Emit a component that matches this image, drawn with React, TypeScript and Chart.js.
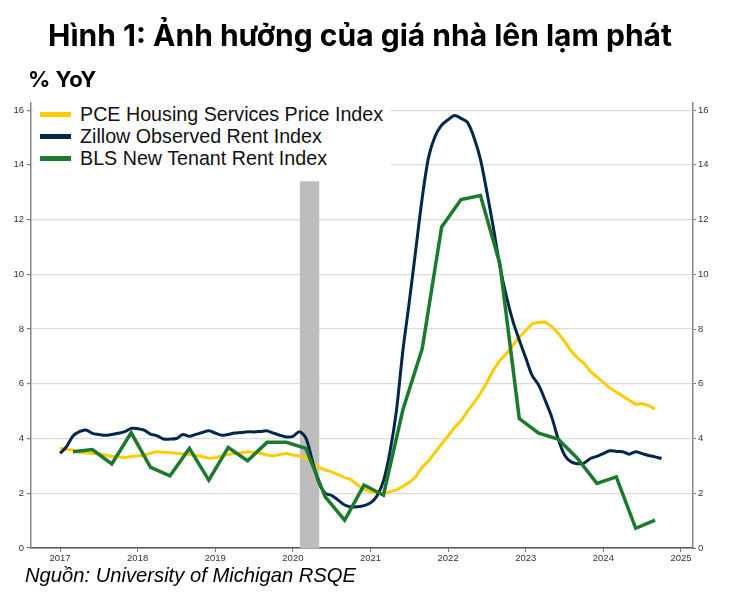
import React, { useEffect, useRef } from "react";
import { Chart, registerables } from "chart.js";

Chart.register(...registerables);

const yearTicks = [2017, 2018, 2019, 2020, 2021, 2022, 2023, 2024, 2025];
const valueTicks = [0, 2, 4, 6, 8, 10, 12, 14, 16];

// Monthly series start Jan 2017
const seriesStart = 2017;
const zillowValues = [
  3.46, 3.7, 4.09, 4.25, 4.31, 4.19, 4.15, 4.12, 4.15, 4.19, 4.25, 4.37,
  4.36, 4.31, 4.16, 4.1, 3.98, 3.98, 4.0, 4.15, 4.08, 4.15, 4.22, 4.28,
  4.2, 4.12, 4.15, 4.2, 4.22, 4.25, 4.24, 4.26, 4.28, 4.2, 4.12, 4.06,
  4.08, 4.25, 4.02, 3.2, 2.4, 2.0, 1.92, 1.75, 1.57, 1.5, 1.51, 1.55,
  1.65, 1.9, 2.45, 3.5, 5.0, 7.2, 9.0, 10.9, 12.8, 14.3, 15.05, 15.45,
  15.65, 15.8, 15.7, 15.55, 15.0, 14.2, 13.0, 11.7, 10.3, 9.2, 8.3, 7.6,
  6.95, 6.3, 5.95, 5.4, 4.8, 4.0, 3.4, 3.15, 3.08, 3.1, 3.27, 3.35,
  3.45, 3.55, 3.53, 3.52, 3.43, 3.52, 3.45, 3.38, 3.33, 3.27,
];
const pceValues = [
  3.64, 3.6, 3.58, 3.5, 3.48, 3.45, 3.44, 3.4, 3.35, 3.33, 3.3, 3.34,
  3.36, 3.4, 3.46, 3.52, 3.5, 3.48, 3.46, 3.44, 3.42, 3.38, 3.34, 3.28,
  3.3, 3.36, 3.42, 3.45, 3.48, 3.52, 3.5, 3.46, 3.4, 3.36, 3.42, 3.45,
  3.4, 3.36, 3.28, 3.15, 2.95, 2.85, 2.78, 2.68, 2.58, 2.5, 2.3, 2.15,
  2.05, 2.0, 2.0, 2.05, 2.12, 2.25, 2.4, 2.6, 2.95, 3.2, 3.5, 3.8,
  4.1, 4.4, 4.65, 5.0, 5.3, 5.65, 6.05, 6.5, 6.85, 7.1, 7.4, 7.7,
  7.95, 8.2, 8.24, 8.26, 8.1, 7.85, 7.55, 7.2, 6.95, 6.75, 6.45, 6.25,
  6.05, 5.85, 5.7, 5.55, 5.4, 5.25, 5.28, 5.2, 5.08,
];
// Quarterly series starting Mar 2017
const blsStart = 2017 + 2 / 12;
const blsValues = [
  3.52, 3.6, 3.07, 4.21, 2.95, 2.64, 3.64, 2.48, 3.67, 3.19, 3.86, 3.86,
  3.64, 1.87, 1.02, 2.3, 1.93, 5.04, 7.29, 11.73, 12.73, 12.88, 10.39, 4.73,
  4.2, 3.98, 3.27, 2.36, 2.6, 0.72, 1.02,
];

const recessionStart = 2020.09;
const recessionEnd = 2020.34;
const recessionTop = 13.4;

const seriesNames = [
  "PCE Housing Services Price Index",
  "Zillow Observed Rent Index",
  "BLS New Tenant Rent Index",
];
const seriesColors = ["#FFCB05", "#00274C", "#1B7A2C"];

const monthly = (vals: number[]) =>
  vals.map((v, i) => ({ x: seriesStart + i / 12, y: v }));
const quarterly = (vals: number[]) =>
  vals.map((v, i) => ({ x: blsStart + i / 4, y: v }));

const recessionPlugin = {
  id: "recession",
  beforeDatasetsDraw(chart: any) {
    const { ctx, scales } = chart;
    const x0 = scales.x.getPixelForValue(recessionStart);
    const x1 = scales.x.getPixelForValue(recessionEnd);
    const y0 = scales.y.getPixelForValue(recessionTop);
    const y1 = scales.y.getPixelForValue(0);
    ctx.save();
    ctx.fillStyle = "#bdbdbd";
    ctx.fillRect(x0, y0, x1 - x0, y1 - y0);
    ctx.restore();
  },
};

export default function App() {
  const ref = useRef<HTMLCanvasElement>(null);
  useEffect(() => {
    if (!ref.current) return;
    const tickFont = { family: "Liberation Sans, Arial", size: 9.5 };
    const chart = new Chart(ref.current, {
      type: "line",
      data: {
        datasets: [
          {
            label: seriesNames[2],
            data: quarterly(blsValues),
            borderColor: seriesColors[2],
            borderWidth: 3.5,
            pointRadius: 0,
            tension: 0,
          },
          {
            label: seriesNames[1],
            data: monthly(zillowValues),
            borderColor: seriesColors[1],
            borderWidth: 3,
            pointRadius: 0,
            tension: 0.3,
          },
          {
            label: seriesNames[0],
            data: monthly(pceValues),
            borderColor: seriesColors[0],
            borderWidth: 3,
            pointRadius: 0,
            tension: 0,
          },
        ],
      },
      options: {
        animation: false,
        responsive: false,
        layout: { padding: { top: 103, bottom: 28, left: 0, right: 0 } },
        plugins: { legend: { display: false }, tooltip: { enabled: false } },
        scales: {
          x: {
            type: "linear",
            min: 2016.626,
            max: 2025.155,
            afterBuildTicks: (axis: any) => {
              axis.ticks = yearTicks.map((v) => ({ value: v }));
            },
            afterFit: (axis: any) => {
              axis.height = 22;
            },
            ticks: {
              font: tickFont,
              color: "#333",
              padding: 1,
              maxRotation: 0,
              autoSkip: false,
              callback: (v: any) => String(v),
            },
            grid: { drawOnChartArea: false, tickLength: 4, tickColor: "#777" },
            border: { color: "#555", width: 1.5 },
          },
          y: {
            position: "left",
            min: 0,
            max: 16.26,
            afterBuildTicks: (axis: any) => {
              axis.ticks = valueTicks.map((v) => ({ value: v }));
            },
            afterFit: (axis: any) => {
              axis.width = 31;
            },
            ticks: { font: tickFont, color: "#333", padding: 3 },
            grid: { color: "#dcdcdc", tickLength: 4, tickColor: "#777", lineWidth: 1.2 },
            border: { color: "#888", width: 1.5 },
          },
          y2: {
            position: "right",
            min: 0,
            max: 16.26,
            afterBuildTicks: (axis: any) => {
              axis.ticks = valueTicks.map((v) => ({ value: v }));
            },
            afterFit: (axis: any) => {
              axis.width = 46;
            },
            ticks: { font: tickFont, color: "#333", padding: 2 },
            grid: { drawOnChartArea: false, tickLength: 3, tickColor: "#777" },
            border: { color: "#888", width: 1.5 },
          },
        },
      },
      plugins: [recessionPlugin],
    } as any);
    return () => chart.destroy();
  }, []);

  const legendOrder = [0, 1, 2];
  return (
    <div
      style={{
        position: "fixed",
        left: 0,
        top: 0,
        width: 739,
        height: 598,
        background: "#fff",
        overflow: "hidden",
      }}
    >
      <canvas
        ref={ref}
        width={739}
        height={598}
        style={{ position: "absolute", left: 0, top: 0, width: 739, height: 598 }}
      />
      <div
        style={{
          position: "absolute",
          left: 0,
          top: 14,
          width: 720,
          textAlign: "center",
          fontFamily: "Inter, sans-serif",
          fontWeight: 700,
          fontSize: 30,
          color: "#000",
          lineHeight: "42px",
          whiteSpace: "nowrap",
        }}
      >
        Hình 1: Ảnh hưởng của giá nhà lên lạm phát
      </div>
      <div
        style={{
          position: "absolute",
          left: 28,
          top: 64,
          fontFamily: "Inter, sans-serif",
          fontWeight: 700,
          fontSize: 22,
          color: "#000",
          lineHeight: "30px",
        }}
      >
        % YoY
      </div>
      <div
        style={{
          position: "absolute",
          left: 33,
          top: 101,
          width: 358,
          height: 70,
          background: "#fff",
        }}
      >
        {legendOrder.map((i, r) => (
          <div
            key={i}
            style={{
              position: "absolute",
              left: 0,
              top: 2 + r * 22,
              height: 22,
              display: "flex",
              alignItems: "center",
            }}
          >
            <div
              style={{
                marginLeft: 7,
                width: 31,
                height: 5,
                background: seriesColors[i],
              }}
            />
            <span
              style={{
                marginLeft: 9,
                fontFamily: "Liberation Sans, Arial, sans-serif",
                fontSize: 19.7,
                color: "#111",
                whiteSpace: "nowrap",
              }}
            >
              {seriesNames[i]}
            </span>
          </div>
        ))}
      </div>
      <div
        style={{
          position: "absolute",
          left: 25,
          top: 562,
          fontFamily: "Liberation Sans, Arial, sans-serif",
          fontStyle: "italic",
          fontSize: 20.2,
          color: "#000",
          lineHeight: "27px",
          whiteSpace: "nowrap",
        }}
      >
        Nguồn: University of Michigan RSQE
      </div>
    </div>
  );
}
